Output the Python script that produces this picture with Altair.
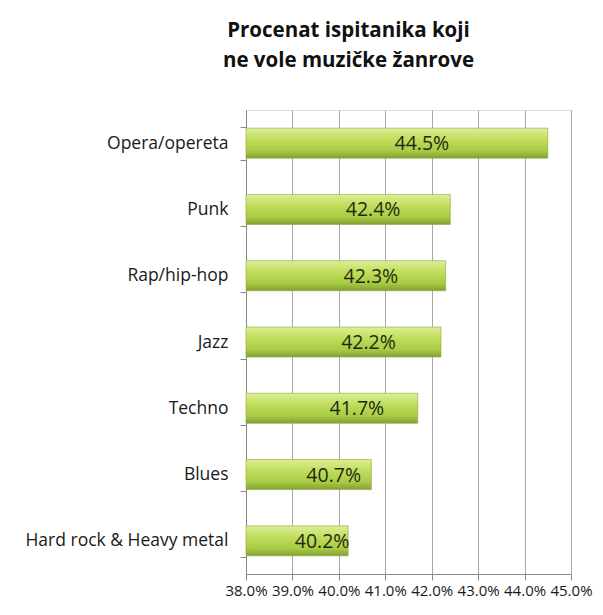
import altair as alt
import pandas as pd

genres = ["Opera/opereta", "Punk", "Rap/hip-hop", "Jazz", "Techno", "Blues", "Hard rock & Heavy metal"]
values = [44.5, 42.4, 42.3, 42.2, 41.7, 40.7, 40.2]
labels = ["44.5%", "42.4%", "42.3%", "42.2%", "41.7%", "40.7%", "40.2%"]
x_ticks = [38, 39, 40, 41, 42, 43, 44, 45]

df = pd.DataFrame({"genre": genres, "value": values, "label": labels, "base": [38] * len(genres)})
df["mid"] = (df["value"] + df["base"]) / 2

FONT = "Open Sans"

x_scale = alt.Scale(domain=[38, 45], nice=False, zero=False)
y_enc = alt.Y("genre:N", sort=genres, title=None,
              scale=alt.Scale(paddingInner=0.5, paddingOuter=0.25),
              axis=alt.Axis(labelFont=FONT, labelFontSize=17.5, labelColor="#1a1a1a",
                            labelPadding=12, tickBand="extent", tickSize=6,
                            tickColor="#888888", domainColor="#888888", grid=False,
                            labelLimit=300))

gradient = alt.Gradient(
    gradient="linear", x1=0, x2=0, y1=0, y2=1,
    stops=[alt.GradientStop(color="#dcef98", offset=0),
           alt.GradientStop(color="#c2de5e", offset=0.35),
           alt.GradientStop(color="#a9cb45", offset=0.75),
           alt.GradientStop(color="#84a133", offset=1)])

bars = alt.Chart(df).mark_bar(size=30, color=gradient, stroke="#8aa83c", strokeWidth=0.6).encode(
    x=alt.X("base:Q", scale=x_scale, title=None,
            axis=alt.Axis(values=x_ticks, labelExpr="format(datum.value, '.1f') + '%'",
                          labelFont=FONT, labelFontSize=15, labelColor="#1a1a1a",
                          labelOverlap=False, labelFlush=False,
                          tickSize=6, tickColor="#888888", domainColor="#888888",
                          grid=True, gridColor="#a8a8a8", gridWidth=1, labelPadding=3)),
    x2="value:Q",
    y=y_enc,
)

text = alt.Chart(df).mark_text(font=FONT, fontSize=19.5, color="#1f2a12", align="center",
                               baseline="middle", dx=25, dy=1).encode(
    x=alt.X("mid:Q", scale=x_scale),
    y=alt.Y("genre:N", sort=genres),
    text="label:N",
)

chart = alt.layer(bars, text).properties(
    width=325, height=464,
    autosize=alt.AutoSizeParams(type="none"),
    padding={"left": 238, "top": 102, "right": 24, "bottom": 33},
    title=alt.TitleParams(["Procenat ispitanika koji", "ne vole muzičke žanrove"],
                          font=FONT, fontSize=20.5, fontWeight="bold", color="#111111",
                          anchor="middle", dx=-60, offset=30, lineHeight=30),
).configure_view(stroke=None).configure(background="white")

chart.save("out.html", embed_options={"renderer": "svg", "actions": False})
